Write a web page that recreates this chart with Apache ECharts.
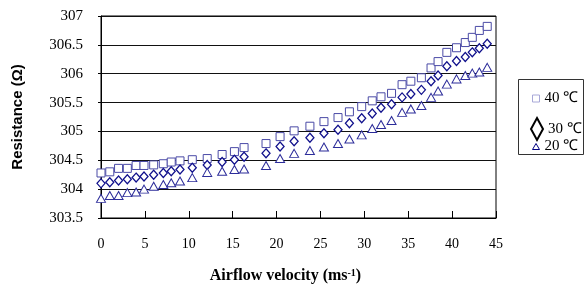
<!DOCTYPE html>
<html>
<head>
<meta charset="utf-8">
<script src="https://cdn.jsdelivr.net/npm/echarts@6/dist/echarts.min.js"></script>
<style>
  html, body { margin: 0; padding: 0; background: #fff; }
  #chart { width: 584px; height: 289px; }
</style>
</head>
<body>
<div id="chart"></div>
<script>
  // airflow velocity (ms-1), shared by the three runs
  var velocity = [0, 1, 2, 3, 4, 4.9, 6, 7.1, 8, 9, 10.4, 12.1, 13.8, 15.2, 16.3, 18.8, 20.4, 22, 23.8,
    25.4, 27, 28.3, 29.7, 30.9, 31.9, 33.1, 34.3, 35.3, 36.5, 37.6, 38.4, 39.4, 40.5, 41.5, 42.3, 43.1, 44]
  var r40 = [304.28, 304.30, 304.36, 304.36, 304.41, 304.41, 304.42, 304.44, 304.47, 304.49, 304.51, 304.53,
    304.60, 304.65, 304.72, 304.79, 304.91, 305.01, 305.09, 305.17, 305.24, 305.34, 305.43, 305.53, 305.60,
    305.66, 305.81, 305.87, 305.93, 306.10, 306.21, 306.37, 306.45, 306.54, 306.63, 306.75, 306.82]
  var r30 = [304.10, 304.12, 304.15, 304.17, 304.20, 304.22, 304.25, 304.28, 304.31, 304.34, 304.37, 304.42,
    304.47, 304.51, 304.56, 304.62, 304.74, 304.83, 304.89, 304.97, 305.03, 305.14, 305.23, 305.31, 305.41,
    305.47, 305.59, 305.65, 305.72, 305.87, 305.97, 306.13, 306.22, 306.29, 306.37, 306.44, 306.52]
  var r20 = [303.84, 303.89, 303.89, 303.94, 303.95, 304.00, 304.05, 304.08, 304.11, 304.14, 304.20, 304.29,
    304.31, 304.34, 304.35, 304.41, 304.53, 304.62, 304.67, 304.73, 304.79, 304.87, 304.94, 305.05, 305.12,
    305.19, 305.33, 305.39, 305.45, 305.59, 305.70, 305.82, 305.91, 305.97, 306.01, 306.03, 306.11]
  var names = ['40 ℃', '30 ℃', '20 ℃']

  function pairs(ys) {
    var out = []
    for (var i = 0; i < ys.length; i++) out.push([velocity[i], ys[i]])
    return out
  }

  var serif = '"Liberation Serif", "Times New Roman", serif'
  var chart = echarts.init(document.getElementById('chart'))
  chart.setOption({
    backgroundColor: '#fff',
    animation: false,
    grid: {
      left: 101, top: 16, right: 88, bottom: 70,
      show: true, borderColor: '#000', borderWidth: 1, backgroundColor: '#fff'
    },
    xAxis: {
      type: 'value',
      min: 0, max: 45, interval: 5,
      name: 'Airflow velocity (ms{sup|-1})',
      nameLocation: 'middle',
      nameGap: 50,
      nameTextStyle: {
        fontFamily: serif, fontWeight: 'bold', fontSize: 16, color: '#000',
        padding: [0, 26, 0, 0],
        rich: {
          sup: { fontFamily: serif, fontWeight: 'bold', fontSize: 10, color: '#000', verticalAlign: 'top' }
        }
      },
      axisLine: { lineStyle: { color: '#000', width: 1 } },
      axisTick: { inside: true, length: 7, lineStyle: { color: '#000' } },
      axisLabel: { fontFamily: serif, fontSize: 14, color: '#000', margin: 19 },
      splitLine: { show: false }
    },
    yAxis: {
      type: 'value',
      min: 303.5, max: 307, interval: 0.5,
      name: 'Resistance (Ω)',
      nameLocation: 'middle',
      nameGap: 76,
      nameTextStyle: {
        fontFamily: '"Liberation Sans", Arial, sans-serif', fontWeight: 'bold', fontSize: 15, color: '#000'
      },
      axisLine: { show: true, lineStyle: { color: '#000', width: 1 } },
      axisTick: { show: true, length: 3, lineStyle: { color: '#000' } },
      axisLabel: { fontFamily: serif, fontSize: 15, color: '#000', margin: 18 },
      splitLine: { lineStyle: { color: '#111', width: 1 } }
    },
    legend: [
      {
        left: 527, top: 86, itemWidth: 7, itemHeight: 7, selectedMode: false,
        textStyle: { fontFamily: serif, fontSize: 15, color: '#000' },
        data: [{ name: names[0], icon: 'rect', itemStyle: { color: '#fff', borderColor: '#a8a8d8', borderWidth: 1 } }]
      },
      {
        left: 525, top: 112, itemWidth: 12, itemHeight: 22, selectedMode: false,
        textStyle: { fontFamily: serif, fontSize: 15, color: '#000' },
        data: [{ name: names[1], icon: 'diamond', itemStyle: { color: '#fff', borderColor: '#000', borderWidth: 2 } }]
      },
      {
        left: 527, top: 134, itemWidth: 7, itemHeight: 6, selectedMode: false,
        textStyle: { fontFamily: serif, fontSize: 15, color: '#000' },
        data: [{ name: names[2], icon: 'triangle', itemStyle: { color: '#fff', borderColor: '#000080', borderWidth: 1 } }]
      }
    ],
    graphic: [{
      type: 'rect', left: 518, top: 79, z: -1,
      shape: { width: 65, height: 75 },
      style: { fill: '#fff', stroke: '#333', lineWidth: 1 }
    }],
    series: [
      {
        name: names[0], type: 'scatter', symbol: 'rect', symbolSize: 8,
        itemStyle: { color: '#fff', borderColor: '#4a4aa6', borderWidth: 1, opacity: 1 },
        data: pairs(r40)
      },
      {
        name: names[1], type: 'scatter', symbol: 'diamond', symbolSize: [8, 9],
        itemStyle: { color: '#fff', borderColor: '#10108c', borderWidth: 1.3, opacity: 1 },
        data: pairs(r30)
      },
      {
        name: names[2], type: 'scatter', symbol: 'triangle', symbolSize: [9, 8],
        itemStyle: { color: '#fff', borderColor: '#2c2c9a', borderWidth: 1, opacity: 1 },
        data: pairs(r20)
      }
    ]
  })
</script>
</body>
</html>
